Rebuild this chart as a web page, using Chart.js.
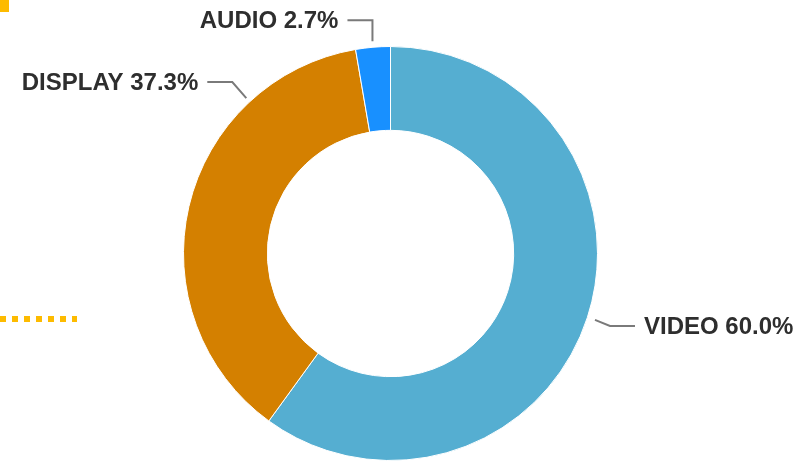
<!DOCTYPE html>
<html>
<head>
<meta charset="utf-8">
<script src="https://cdn.jsdelivr.net/npm/chart.js@4/dist/chart.umd.min.js"></script>
<style>
  html, body { margin: 0; padding: 0; background: #fff; }
  #wrap { position: relative; width: 805px; height: 462px; overflow: hidden; }
  #chart { position: absolute; left: 0; top: 0; }
  /* bits of the surrounding page that show at the edge of the crop */
  .corner { position: absolute; left: 0; top: 0; width: 9px; height: 12px; background: #fdbb00; }
  .dots { position: absolute; left: 0; top: 316px; width: 77px; height: 6px;
          background: repeating-linear-gradient(90deg, #fdbb00 0 6px, transparent 6px 12px); }
</style>
</head>
<body>
<div id="wrap">
  <canvas id="chart" width="805" height="462"></canvas>
  <div class="corner"></div>
  <div class="dots"></div>
</div>
<script>
// ── data ──
const categories = ['VIDEO', 'DISPLAY', 'AUDIO'];
const shares = [60.0, 37.3, 2.7];
const sliceColors = ['#55aed1', '#d48000', '#1890ff'];

// leader line layout per slice: angle shift (deg), gap from ring, elbow offset, side
const LEADERS = [
  { shift: 0, gap: 8, dx: 15, dy: 6, side: 1 },
  { shift: 34, gap: 5, dx: -14, dy: -16, side: -1 },
  { shift: 0, gap: 6, dx: 0, dy: -21, side: -1 },
];

const leaderPlugin = {
  id: 'leaders',
  afterDatasetsDraw(chart) {
    const ctx = chart.ctx;
    const meta = chart.getDatasetMeta(0);
    const total = shares.reduce((a, b) => a + b, 0);
    ctx.save();
    ctx.font = 'bold 24px "Liberation Sans", Arial, sans-serif';
    ctx.textBaseline = 'middle';
    meta.data.forEach((arc, i) => {
      const p = arc.getProps(['x', 'y', 'startAngle', 'endAngle', 'outerRadius'], true);
      const lay = LEADERS[i];
      const a = (p.startAngle + p.endAngle) / 2 + lay.shift * Math.PI / 180;
      const r = p.outerRadius + lay.gap;
      const ax = p.x + Math.cos(a) * r;
      const ay = p.y + Math.sin(a) * r;
      const ex = ax + lay.dx;
      const ey = ay + lay.dy;
      const hx = ex + lay.side * 25;

      ctx.strokeStyle = '#7a7a7a';
      ctx.lineWidth = 2;
      ctx.beginPath();
      ctx.moveTo(ax, ay);
      ctx.lineTo(ex, ey);
      ctx.lineTo(hx, ey);
      ctx.stroke();

      const pct = (shares[i] / total * 100).toFixed(1);
      ctx.fillStyle = '#2e2e2e';
      ctx.textAlign = lay.side > 0 ? 'left' : 'right';
      ctx.fillText(`${categories[i]} ${pct}%`, hx + lay.side * 9, ey + 1);
    });
    ctx.restore();
  },
};

new Chart(document.getElementById('chart'), {
  type: 'doughnut',
  data: {
    labels: categories,
    datasets: [{
      data: shares,
      backgroundColor: sliceColors,
      borderColor: '#ffffff',
      borderWidth: 1,
    }],
  },
  options: {
    responsive: false,
    animation: false,
    cutout: '59.5%',
    layout: { padding: { left: 183, top: 46, right: 207, bottom: 1 } },
    plugins: {
      legend: { display: false },
      tooltip: { enabled: false },
    },
  },
  plugins: [leaderPlugin],
});
</script>
</body>
</html>
